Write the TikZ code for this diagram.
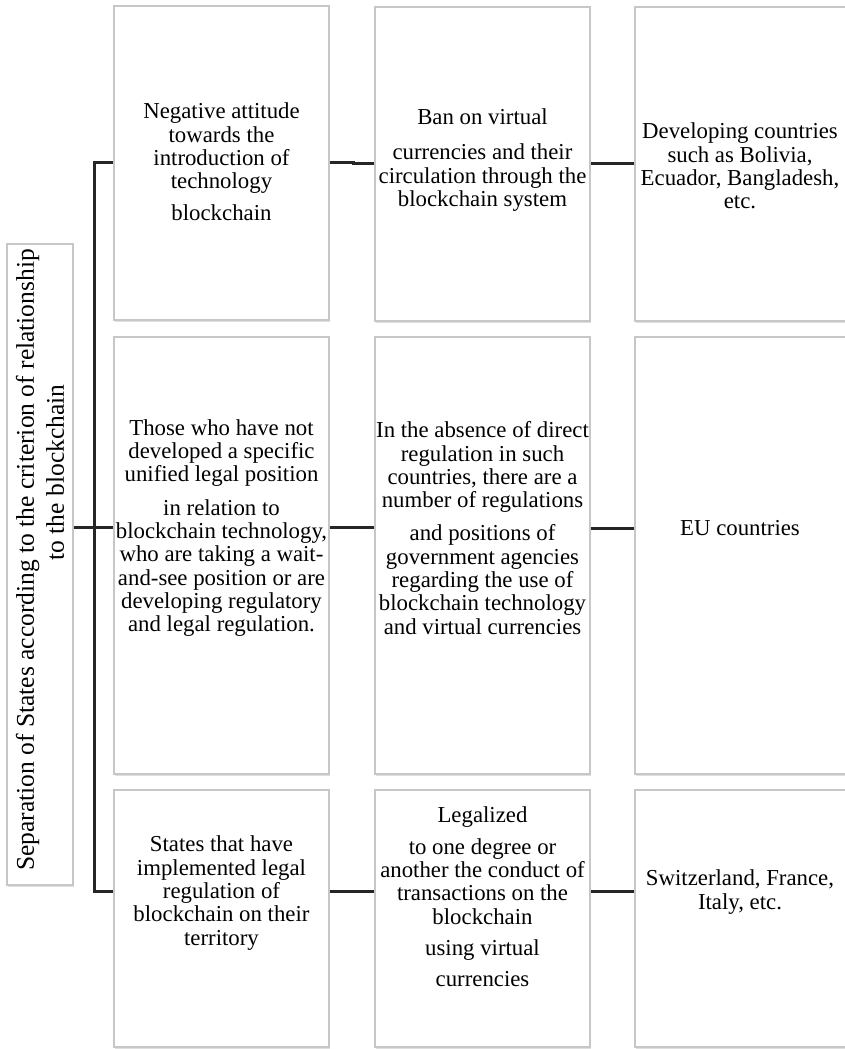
\documentclass[tikz,border=0pt]{standalone}
\usepackage{fontspec}
\setmainfont{Liberation Serif}
\usetikzlibrary{shadows}
\begin{document}
\begin{tikzpicture}[x=1pt,y=-1pt,
  box/.style={draw=black!22, line width=1.3pt, fill=white, inner sep=0pt,
    drop shadow={shadow xshift=1pt, shadow yshift=-1.5pt, opacity=0.25}},
  txt/.style={align=center, inner sep=0pt, font=\fontsize{22.8}{23.3}\selectfont},
  link/.style={line width=3pt, draw=black!85, line join=miter}
]
\useasboundingbox (0,0) rectangle (844,1049);
\fill[white] (0,0) rectangle (844,1049);

% classification label
\node[box, minimum width=66pt, minimum height=641pt] (lab) at (40,564.5) {};
\node[txt, rotate=90, font=\fontsize{25.5}{30}\selectfont] (labt) at (40,560)
  {Separation of States according to the criterion of relationship\\\hspace*{175pt}to the blockchain};

% boxes, three rows by three columns
\node[box, minimum width=215pt, minimum height=314pt] (b11) at (221.5,163) {};
\node[box, minimum width=215pt, minimum height=314pt] (b12) at (482.5,164) {};
\node[box, minimum width=215pt, minimum height=314pt] (b13) at (742.5,164) {};
\node[box, minimum width=215pt, minimum height=437pt] (b21) at (221.5,555.5) {};
\node[box, minimum width=215pt, minimum height=437pt] (b22) at (482.5,555.5) {};
\node[box, minimum width=215pt, minimum height=437pt] (b23) at (742.5,555.5) {};
\node[box, minimum width=215pt, minimum height=257pt] (b31) at (221.5,918.5) {};
\node[box, minimum width=215pt, minimum height=257pt] (b32) at (482.5,918.5) {};
\node[box, minimum width=215pt, minimum height=257pt] (b33) at (742.5,918.5) {};

% texts
\node[txt] (t11) at (221.5,162) {Negative attitude\\towards the\\introduction of\\technology\\[9pt]blockchain};
\node[txt] (t12) at (482.5,160) {Ban on virtual\\[12pt]currencies and their\\circulation through the\\blockchain system};
\node[txt] (t13) at (740,166) {Developing countries\\such as Bolivia,\\Ecuador, Bangladesh,\\etc.};
\node[txt] (t21) at (221.5,528) {Those who have not\\developed a specific\\unified legal position\\[10pt]in relation to\\blockchain technology,\\who are taking a wait-\\and-see position or are\\developing regulatory\\and legal regulation.};
\node[txt] (t22) at (482.5,528) {In the absence of direct\\regulation in such\\countries, there are a\\number of regulations\\[10pt]and positions of\\government agencies\\regarding the use of\\blockchain technology\\and virtual currencies};
\node[txt] (t23) at (740,528) {EU countries};
\node[txt] (t31) at (221.5,893) {States that have\\implemented legal\\regulation of\\blockchain on their\\territory};
\node[txt] (t32) at (482.5,897) {Legalized\\[8pt]to one degree or\\another the conduct of\\transactions on the\\blockchain\\[8pt]using virtual\\[8pt]currencies};
\node[txt] (t33) at (740,892) {Switzerland, France,\\Italy, etc.};

% spine and branches
\coordinate (spT) at (94,162);
\coordinate (spM) at (94,527);
\coordinate (spB) at (94,891);
\draw[link] (b11.west |- spT) -- (spT) -- (spB) -- (b31.west |- spB);
\draw[link] (lab.east |- spM) -- (b21.west |- spM);

% row connectors
\draw[link] (b11.east |- spT) -- (353,162) -- (353,163.6) -- (b12.west |- 0,163.6);
\draw[link] (b12.east |- 0,163) -- (b13.west |- 0,163);
\draw[link] (b21.east |- spM) -- (b22.west |- spM);
\draw[link] (b22.east |- 0,528) -- (b23.west |- 0,528);
\draw[link] (b31.east |- spB) -- (b32.west |- spB);
\draw[link] (b32.east |- spB) -- (b33.west |- spB);
\end{tikzpicture}
\end{document}
